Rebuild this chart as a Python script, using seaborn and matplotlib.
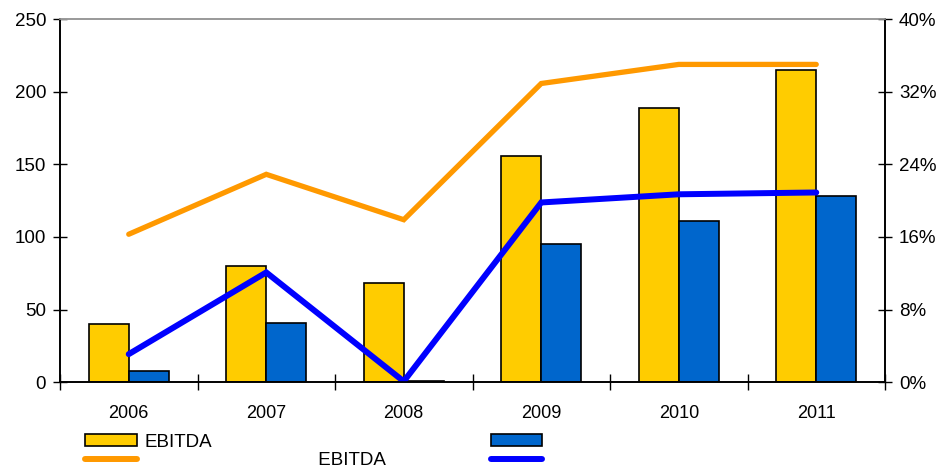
import numpy as np
import pandas as pd
import matplotlib
matplotlib.use("Agg")
import matplotlib.pyplot as plt
import seaborn as sns
from matplotlib.patches import Patch
from matplotlib.lines import Line2D
from matplotlib.ticker import FuncFormatter, FixedLocator

years = ["2006", "2007", "2008", "2009", "2010", "2011"]
ebitda = [40, 80, 68, 156, 189, 215]
series2 = [8, 41, 1, 95, 111, 128]
ebitda_margin = [16.3, 22.9, 17.9, 32.9, 35.0, 35.0]
margin2 = [3.1, 12.1, 0.1, 19.8, 20.7, 20.9]
bar_labels = ["EBITDA", " "]
line_labels = [" " * 33 + "EBITDA", " "]
right_ticks = [0, 8, 16, 24, 32, 40]

sns.set_theme(style="white")
plt.rcParams["font.family"] = ["Liberation Sans", "DejaVu Sans"]
plt.rcParams["text.color"] = "black"

bar_df = pd.DataFrame({
    "year": years * 2,
    "value": ebitda + series2,
    "series": [bar_labels[0]] * len(years) + [bar_labels[1]] * len(years),
})
pos = np.arange(len(years))
line_df = pd.DataFrame({
    "pos": np.concatenate([pos, pos]),
    "value": ebitda_margin + margin2,
    "series": [line_labels[0]] * len(years) + [line_labels[1]] * len(years),
})

bar_colors = ["#FFCC00", "#0066CC"]
line_colors = ["#FF9900", "#0000FF"]

fig = plt.figure(figsize=(9.47, 4.73), dpi=100)
ax = fig.add_axes([60 / 947, 1 - 382.3 / 473, (885 - 60) / 947, (382.3 - 19) / 473])

sns.barplot(data=bar_df, x="year", y="value", hue="series", palette=bar_colors,
            width=0.58, edgecolor="black", linewidth=1.2, ax=ax, legend=False,
            saturation=1)
ax.set_xlim(-0.5, len(years) - 0.5)
ax.set_ylim(0, 250)
ax.set_yticks([0, 50, 100, 150, 200, 250])
ax.set_xlabel("")
ax.set_ylabel("")

ax2 = ax.twinx()
for i, lab in enumerate(line_labels):
    sub = line_df[line_df["series"] == lab]
    sns.lineplot(data=sub, x="pos", y="value", color=line_colors[i],
                 linewidth=3.8 if i == 0 else 4.3, ax=ax2, legend=False,
                 solid_capstyle="round", solid_joinstyle="miter")
ax2.set_ylim(0, 40)
ax2.set_yticks(right_ticks)
ax2.yaxis.set_major_formatter(FuncFormatter(lambda v, p: f"{v:.0f}%"))
ax2.set_xlim(-0.5, len(years) - 0.5)
ax2.set_ylabel("")
ax2.set_xlabel("")

# spines
for a in (ax, ax2):
    for s in ("left", "right", "bottom"):
        a.spines[s].set_color("black")
        a.spines[s].set_linewidth(1.2)
    a.spines["top"].set_color("#999999")
    a.spines["top"].set_linewidth(1.2)
    a.grid(False)

ax.tick_params(axis="y", direction="inout", length=10, width=1, colors="black",
               labelsize=13.5, pad=5, left=True)
ax2.tick_params(axis="y", direction="inout", length=10, width=1, colors="black",
                labelsize=13.5, pad=5, right=True)
ax.xaxis.set_minor_locator(FixedLocator(np.arange(-0.5, len(years), 1.0)))
ax.tick_params(axis="x", which="minor", direction="inout", length=12, width=1,
               colors="black", bottom=True)
ax.tick_params(axis="x", which="major", length=0, labelsize=13, pad=16,
               labelcolor="black")
ax2.tick_params(axis="x", which="both", bottom=False, labelbottom=False)

handles = [
    Patch(facecolor=bar_colors[0], edgecolor="black", linewidth=1.2),
    Line2D([0], [0], color=line_colors[0], linewidth=4.3, solid_capstyle="round"),
    Patch(facecolor=bar_colors[1], edgecolor="black", linewidth=1.2),
    Line2D([0], [0], color=line_colors[1], linewidth=4.3, solid_capstyle="round"),
]
labels = [bar_labels[0], line_labels[0], bar_labels[1], line_labels[1]]
leg = fig.legend(handles, labels, ncol=2, loc="upper left",
                 bbox_to_anchor=(85 / 947, 1 - 434 / 473),
                 frameon=False, fontsize=13.5, handlelength=2.75,
                 handleheight=0.6, handletextpad=0.43, columnspacing=5.6,
                 labelspacing=0.05, borderpad=0, borderaxespad=0,
                 labelcolor="black")

fig.savefig("out.png", dpi=100)
